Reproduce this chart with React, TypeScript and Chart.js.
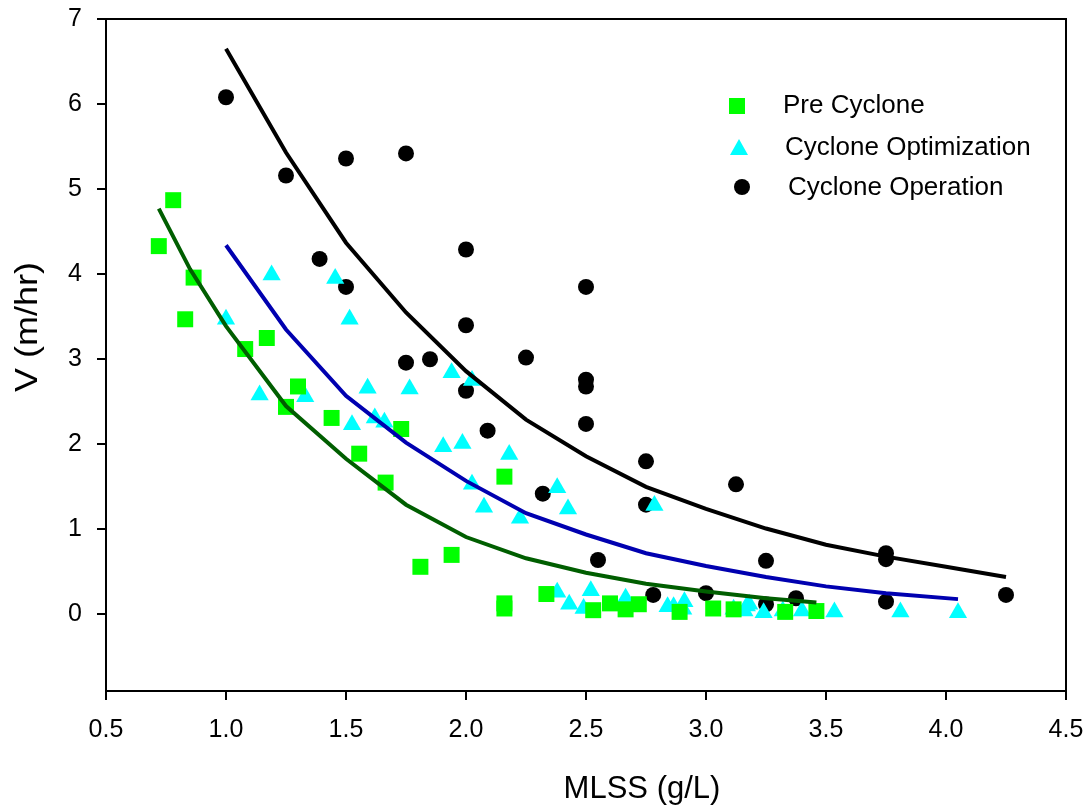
import React, { useEffect, useRef } from 'react';
import { Chart, registerables } from 'chart.js';

Chart.register(...registerables);

const FONT = '"Liberation Sans", Arial, Helvetica, sans-serif';

const X_TITLE = 'MLSS (g/L)';
const Y_TITLE = 'V (m/hr)';
const LEGEND_LABELS = ['Pre Cyclone', 'Cyclone Optimization', 'Cyclone Operation'];

const X_MIN = 0.5;
const X_MAX = 4.5;
const X_STEP = 0.5;
const Y_MIN = -0.9;
const Y_MAX = 7;
const Y_STEP = 1;

// Pre Cyclone (green squares)
const preX = [0.72, 0.78, 0.83, 0.865, 1.08, 1.17, 1.25, 1.30, 1.44, 1.555, 1.665, 1.73, 1.81, 1.94, 2.16, 2.16, 2.16, 2.335, 2.53, 2.60, 2.665, 2.72, 2.89, 3.03, 3.115, 3.33, 3.46];
const preY = [4.33, 4.87, 3.47, 3.96, 3.12, 3.25, 2.44, 2.68, 2.31, 1.89, 1.55, 2.18, 0.56, 0.70, 1.62, 0.13, 0.07, 0.24, 0.05, 0.13, 0.06, 0.12, 0.03, 0.07, 0.06, 0.03, 0.04];

// Cyclone Optimization (cyan triangles)
const optX = [1.00, 1.19, 1.14, 1.33, 1.455, 1.515, 1.525, 1.59, 1.62, 1.66, 1.765, 1.905, 1.94, 1.985, 2.025, 2.025, 2.075, 2.18, 2.225, 2.38, 2.425, 2.785, 2.38, 2.43, 2.49, 2.52, 2.665, 2.84, 2.865, 2.905, 2.91, 3.115, 3.16, 3.17, 3.18, 3.24, 3.32, 3.40, 3.535, 3.81, 4.05];
const optY = [3.47, 3.99, 2.58, 2.56, 3.95, 3.47, 2.23, 2.66, 2.31, 2.26, 2.65, 1.97, 2.84, 2.01, 2.75, 1.53, 1.26, 1.88, 1.13, 1.49, 1.24, 1.28, 0.26, 0.12, 0.07, 0.28, 0.19, 0.09, 0.09, 0.06, 0.15, 0.06, 0.04, 0.10, 0.12, 0.02, 0.04, 0.04, 0.03, 0.03, 0.02];

// Cyclone Operation (black circles)
const opX = [1.00, 1.25, 1.50, 1.75, 1.39, 1.50, 1.75, 1.85, 2.00, 2.50, 2.00, 2.25, 2.50, 2.50, 2.00, 2.09, 2.50, 2.75, 3.125, 2.32, 2.75, 2.55, 2.78, 3.00, 3.25, 3.75, 3.75, 3.25, 3.375, 3.75, 4.25];
const opY = [6.08, 5.16, 5.36, 5.42, 4.18, 3.85, 2.96, 3.00, 4.29, 3.85, 3.40, 3.02, 2.76, 2.68, 2.63, 2.16, 2.24, 1.80, 1.53, 1.42, 1.29, 0.64, 0.23, 0.25, 0.63, 0.72, 0.65, 0.12, 0.19, 0.15, 0.23];

// Fitted curves
const fitPreX = [0.72, 0.85, 1.0, 1.25, 1.5, 1.75, 2.0, 2.25, 2.5, 2.75, 3.0, 3.25, 3.46];
const fitPreY = [4.77, 4.06, 3.39, 2.45, 1.83, 1.29, 0.91, 0.66, 0.49, 0.36, 0.27, 0.19, 0.14];

const fitOptX = [1.0, 1.25, 1.5, 1.75, 2.0, 2.25, 2.5, 2.75, 3.0, 3.25, 3.5, 3.75, 4.05];
const fitOptY = [4.34, 3.35, 2.57, 2.02, 1.57, 1.19, 0.94, 0.72, 0.57, 0.44, 0.33, 0.25, 0.18];

const fitOpX = [1.0, 1.25, 1.5, 1.75, 2.0, 2.25, 2.5, 2.75, 3.0, 3.25, 3.5, 3.75, 4.0, 4.25];
const fitOpY = [6.65, 5.43, 4.37, 3.55, 2.86, 2.29, 1.86, 1.50, 1.24, 1.01, 0.82, 0.68, 0.56, 0.44];

const GREEN = '#00ff00';
const CYAN = '#00ffff';
const BLACK = '#000000';
const DARK_GREEN = '#005e00';
const BLUE = '#0000b0';

const pts = (xs: number[], ys: number[]) => xs.map((x, i) => ({ x, y: ys[i] }));

const decoPlugin = {
  id: 'deco',
  afterDraw(chart: any) {
    const { ctx, chartArea: a } = chart;
    ctx.save();
    // top and right frame
    ctx.strokeStyle = '#000';
    ctx.lineWidth = 2;
    ctx.beginPath();
    ctx.moveTo(a.left - 1, a.top);
    ctx.lineTo(a.right, a.top);
    ctx.lineTo(a.right, a.bottom + 1);
    ctx.stroke();

    ctx.fillStyle = '#000';
    // x title
    ctx.font = `31px ${FONT}`;
    ctx.textAlign = 'center';
    ctx.textBaseline = 'alphabetic';
    ctx.fillText(X_TITLE, 642, 798);

    // y title
    ctx.save();
    ctx.translate(28, 327);
    ctx.rotate(-Math.PI / 2);
    ctx.textBaseline = 'middle';
    ctx.textAlign = 'center';
    const w = ctx.measureText(Y_TITLE).width;
    ctx.scale(130 / w, 1);
    ctx.fillText(Y_TITLE, 0, 0);
    ctx.restore();

    // legend
    ctx.fillStyle = GREEN;
    ctx.fillRect(737 - 8, 106 - 8, 16, 16);
    ctx.fillStyle = CYAN;
    ctx.beginPath();
    ctx.moveTo(739, 139);
    ctx.lineTo(748, 155);
    ctx.lineTo(730, 155);
    ctx.closePath();
    ctx.fill();
    ctx.fillStyle = BLACK;
    ctx.beginPath();
    ctx.arc(742, 187, 8, 0, Math.PI * 2);
    ctx.fill();

    ctx.fillStyle = '#000';
    ctx.font = `26px ${FONT}`;
    ctx.textAlign = 'left';
    ctx.textBaseline = 'middle';
    ctx.fillText(LEGEND_LABELS[0], 783, 106);
    ctx.fillText(LEGEND_LABELS[1], 785, 148);
    ctx.fillText(LEGEND_LABELS[2], 788, 188);
    ctx.restore();
  },
};

export default function App() {
  const ref = useRef<HTMLCanvasElement>(null);

  useEffect(() => {
    document.body.style.margin = '0';
    const canvas = ref.current!;
    const lineDs = (data: any[], color: string) => ({
      type: 'line' as const,
      data,
      showLine: true,
      borderColor: color,
      backgroundColor: color,
      borderWidth: 4,
      pointRadius: 0,
      tension: 0,
      fill: false,
      order: 0,
    });
    const chart = new Chart(canvas, {
      type: 'scatter',
      data: {
        datasets: [
          lineDs(pts(fitOpX, fitOpY), BLACK),
          lineDs(pts(fitOptX, fitOptY), BLUE),
          lineDs(pts(fitPreX, fitPreY), DARK_GREEN),
          {
            label: LEGEND_LABELS[0],
            data: pts(preX, preY),
            pointStyle: 'rect',
            pointRadius: 11.3,
            backgroundColor: GREEN,
            borderColor: GREEN,
            borderWidth: 0,
            order: 1,
          },
          {
            label: LEGEND_LABELS[1],
            data: pts(optX, optY),
            pointStyle: 'triangle',
            pointRadius: 10.5,
            backgroundColor: CYAN,
            borderColor: CYAN,
            borderWidth: 0,
            order: 1,
          },
          {
            label: LEGEND_LABELS[2],
            data: pts(opX, opY),
            pointStyle: 'circle',
            pointRadius: 8,
            backgroundColor: BLACK,
            borderColor: BLACK,
            borderWidth: 0,
            order: 1,
          },
        ] as any,
      },
      options: {
        responsive: false,
        animation: false,
        events: [],
        layout: { padding: { top: 19, right: 23, left: 0, bottom: 0 } },
        plugins: { legend: { display: false }, tooltip: { enabled: false } },
        scales: {
          x: {
            type: 'linear',
            min: X_MIN,
            max: X_MAX,
            ticks: {
              stepSize: X_STEP,
              callback: (v: any) => Number(v).toFixed(1),
              font: { family: FONT, size: 25 },
              color: '#000',
              padding: 15,
              maxRotation: 0,
              autoSkip: false,
            },
            grid: { drawOnChartArea: false, drawTicks: true, tickLength: 9, color: '#000', lineWidth: 2 },
            border: { display: true, color: '#000', width: 2 },
            afterFit: (s: any) => {
              s.height = 118;
              s.paddingLeft = 0;
              s.paddingRight = 0;
            },
          },
          y: {
            type: 'linear',
            min: Y_MIN,
            max: Y_MAX,
            ticks: {
              stepSize: Y_STEP,
              font: { family: FONT, size: 25 },
              color: '#000',
              padding: 15,
            },
            afterBuildTicks: (s: any) => {
              s.ticks = s.ticks.filter((t: any) => t.value >= 0 && Math.abs(t.value - Math.round(t.value)) < 1e-9);
            },
            grid: { drawOnChartArea: false, drawTicks: true, tickLength: 9, color: '#000', lineWidth: 2 },
            border: { display: true, color: '#000', width: 2 },
            afterFit: (s: any) => {
              s.width = 106;
              s.paddingTop = 0;
              s.paddingBottom = 0;
            },
          },
        },
      } as any,
      plugins: [decoPlugin],
    });
    return () => chart.destroy();
  }, []);

  return (
    <div style={{ position: 'relative', width: 1089, height: 809 }}>
      <canvas ref={ref} width={1089} height={809} style={{ display: 'block' }} />
    </div>
  );
}
